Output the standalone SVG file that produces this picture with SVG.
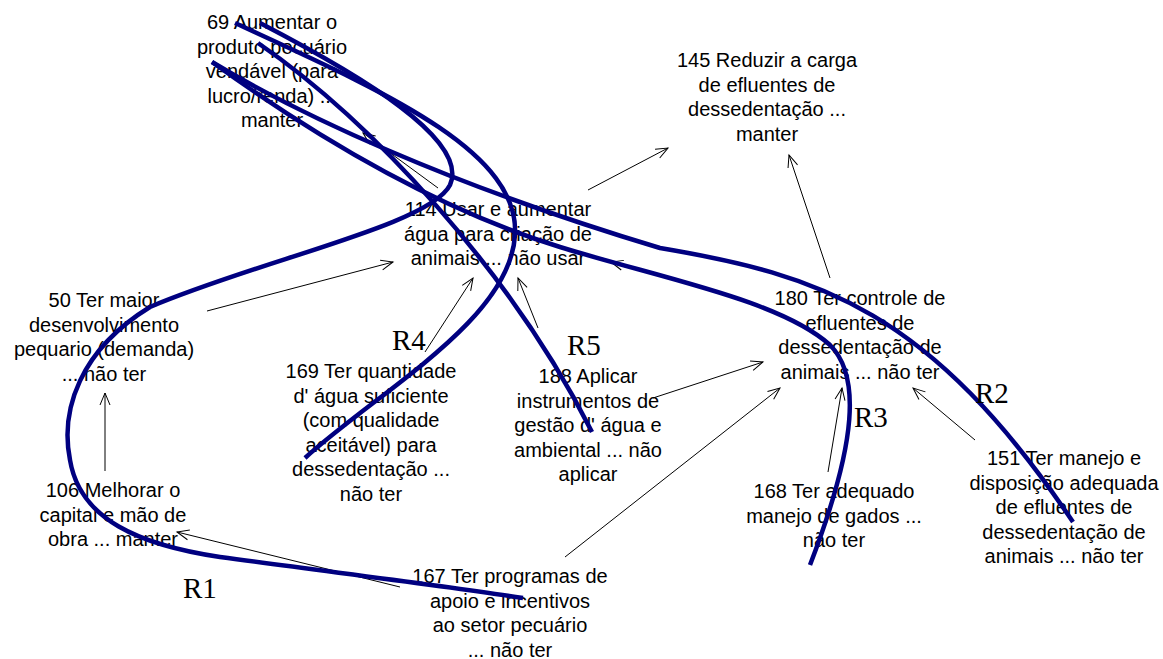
<svg xmlns="http://www.w3.org/2000/svg" width="1163" height="659" viewBox="0 0 1163 659">
<style>
.t{font-family:"Liberation Sans",Arial,sans-serif;font-size:20px;fill:#000;text-anchor:middle}
.r{font-family:"Liberation Serif","Times New Roman",serif;font-size:29px;fill:#000}
.a{stroke:#000;stroke-width:1;fill:none;marker-end:url(#ah)}
.loop{stroke:#000080;stroke-width:4.5;fill:none;stroke-linecap:butt}
</style>
<defs>
<marker id="ah" markerUnits="userSpaceOnUse" markerWidth="14" markerHeight="12" refX="12" refY="5" orient="auto" overflow="visible">
<path d="M0,0 L12,5 L0,10" fill="none" stroke="#000" stroke-width="1"/>
</marker>
</defs>
<rect width="1163" height="659" fill="#fff"/>
<g id="n69"><text class="t" x="272" y="29">69 Aumentar o</text><text class="t" x="272" y="53.5">produto pecuário</text><text class="t" x="272" y="78">vendável (para</text><text class="t" x="272" y="102.5">lucro/renda) ...</text><text class="t" x="272" y="127">manter</text></g>
<g id="n145"><text class="t" x="767" y="67">145 Reduzir a carga</text><text class="t" x="767" y="91.5">de efluentes de</text><text class="t" x="767" y="116">dessedentação ...</text><text class="t" x="767" y="140.5">manter</text></g>
<g id="n114"><text class="t" x="498" y="216">114 Usar e aumentar</text><text class="t" x="498" y="240.5">água para criação de</text><text class="t" x="498" y="265">animais ... não usar</text></g>
<g id="n50"><text class="t" x="104" y="307">50 Ter maior</text><text class="t" x="104" y="331.5">desenvolvimento</text><text class="t" x="104" y="356">pequario (demanda)</text><text class="t" x="104" y="380.5">... não ter</text></g>
<g id="n106"><text class="t" x="113" y="497">106 Melhorar o</text><text class="t" x="113" y="521.5">capital e mão de</text><text class="t" x="113" y="546">obra ... manter</text></g>
<g id="n169"><text class="t" x="371" y="378">169 Ter quantidade</text><text class="t" x="371" y="402.5">d' água suficiente</text><text class="t" x="371" y="427">(com qualidade</text><text class="t" x="371" y="451.5">aceitável) para</text><text class="t" x="371" y="476">dessedentação ...</text><text class="t" x="371" y="500.5">não ter</text></g>
<g id="n188"><text class="t" x="588" y="383">188 Aplicar</text><text class="t" x="588" y="407.5">instrumentos de</text><text class="t" x="588" y="432">gestão d' água e</text><text class="t" x="588" y="456.5">ambiental ... não</text><text class="t" x="588" y="481">aplicar</text></g>
<g id="n180"><text class="t" x="860" y="305">180 Ter controle de</text><text class="t" x="860" y="329.5">efluentes de</text><text class="t" x="860" y="354">dessedentação de</text><text class="t" x="860" y="378.5">animais ... não ter</text></g>
<g id="n168"><text class="t" x="834" y="498">168 Ter adequado</text><text class="t" x="834" y="522.5">manejo de gados ...</text><text class="t" x="834" y="547">não ter</text></g>
<g id="n151"><text class="t" x="1064" y="465">151 Ter manejo e</text><text class="t" x="1064" y="489.5">disposição adequada</text><text class="t" x="1064" y="514">de efluentes de</text><text class="t" x="1064" y="538.5">dessedentação de</text><text class="t" x="1064" y="563">animais ... não ter</text></g>
<g id="n167"><text class="t" x="510" y="583">167 Ter programas de</text><text class="t" x="510" y="607.5">apoio e incentivos</text><text class="t" x="510" y="632">ao setor pecuário</text><text class="t" x="510" y="656.5">... não ter</text></g>
<g id="connectors">
<path class="a" d="M438,188 L363,133"/>
<path class="a" d="M588,190 L668,148"/>
<path class="a" d="M830,278 L789,155"/>
<path class="a" d="M207,311 L393,262"/>
<path class="a" d="M105,471 L105,393"/>
<path class="a" d="M400,587 L177,532"/>
<path class="a" d="M425,352 L473,278"/>
<path class="a" d="M538,328 L518,278"/>
<path class="a" d="M640,270 L611,262"/>
<path class="a" d="M653,398 L763,362"/>
<path class="a" d="M565,557 L780,388"/>
<path class="a" d="M828,472 L842,388"/>
<path class="a" d="M975,440 L913,388"/>
</g>
<g id="loops">
<path class="loop" d="M235,23 C380,90 520,150 515,235 C510,320 380,390 305,458"/>
<path class="loop" d="M260,23 C360,75 470,140 450,185 C430,225 260,260 150,307 C80,350 60,410 70,460 C80,520 140,545 220,557 C330,572 440,585 523,598"/>
<path class="loop" d="M258,43 C370,120 510,270 592,432"/>
<path class="loop" d="M212,62 C300,115 450,185 660,248 C820,275 930,310 1073,522"/>
<path class="loop" d="M212,62 C320,140 440,210 560,247 C660,278 780,300 830,345 C860,375 858,440 810,565"/>
</g>
<g id="labels">
<text class="r" x="183" y="598">R1</text>
<text class="r" x="975" y="403">R2</text>
<text class="r" x="854" y="427">R3</text>
<text class="r" x="392" y="350">R4</text>
<text class="r" x="567" y="355">R5</text>
</g>
</svg>
